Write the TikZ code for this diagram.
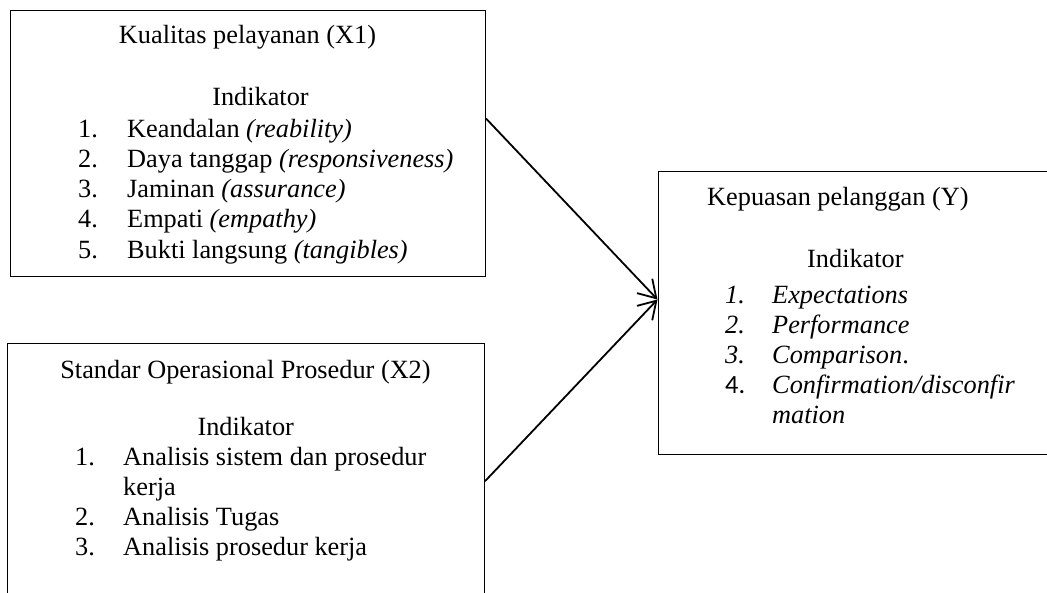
\documentclass[tikz,border=0pt]{standalone}
\usepackage{fontspec}
\setmainfont{Liberation Serif}
\newfontfamily\sansnum{Carlito}
\usetikzlibrary{arrows.meta,positioning}
\tikzset{
  varbox/.style={draw,line width=1pt,anchor=north west,inner sep=0pt},
  txt/.style={anchor=base west,inner sep=0pt,font=\fontsize{26.3}{30}\selectfont},
  ctxt/.style={txt,anchor=base},
  link/.style={line width=1.8pt,-{Straight Barb[length=17pt,width=21pt]}}
}

\begin{document}
\begin{tikzpicture}[x=1pt,y=-1pt]
  \useasboundingbox (0,0) rectangle (1047,592);
  \node[varbox,minimum width=475.5pt,minimum height=266.5pt] (kualitas) at (9.5,9.5) {};
  \node[varbox,minimum width=477pt,minimum height=260pt] (sop) at (7,342.7) {};
  \node[varbox,minimum width=400pt,minimum height=283pt] (kepuasan) at (657.5,171) {};

  \node[ctxt] (kualitastitle) at (247.5,43) {Kualitas pelayanan (X1)};
  \node[ctxt] (kualitasind) at (260.5,105) {Indikator};
  \foreach \n/\item [count=\i from 0] in {1./Keandalan \textit{(reability)},2./Daya tanggap \textit{(responsiveness)},3./Jaminan \textit{(assurance)},4./Empati \textit{(empathy)},5./Bukti langsung \textit{(tangibles)}}{
    \node[txt] (kn\i) at (78,137+30.3*\i) {\n};
    \node[txt] (ki\i) at (127,137+30.3*\i) {\item};
  }

  \node[ctxt] (soptitle) at (245.5,378) {Standar Operasional Prosedur (X2)};
  \node[ctxt] (sopind) at (245.7,435) {Indikator};
  \foreach \n/\item [count=\i from 0] in {1./Analisis sistem dan prosedur,/kerja,2./Analisis Tugas,3./Analisis prosedur kerja}{
    \node[txt] (sn\i) at (75,465+30.3*\i) {\n};
    \node[txt] (si\i) at (123,465+30.3*\i) {\item};
  }

  \node[txt] (kepuasantitle) at (707,205) {Kepuasan pelanggan (Y)};
  \node[txt] (kepuasanind) at (807,267) {Indikator};
  \foreach \n/\item [count=\i from 0] in {\textit{1.}/\textit{Expectations},\textit{2.}/\textit{Performance},\textit{3.}/\textit{Comparison}.,{\sansnum 4.}/{\textit{Confirmation/disconfir}},/\textit{mation}}{
    \node[txt] (yn\i) at (725,303+30*\i) {\n};
    \node[txt] (yi\i) at (772,303+30*\i) {\item};
  }

  \draw[link] ([yshift=24.75pt]kualitas.east) -- ([yshift=13.5pt]kepuasan.west);
  \draw[link] ([yshift=-8pt]sop.east) -- ([yshift=13.5pt]kepuasan.west);
\end{tikzpicture}
\end{document}
